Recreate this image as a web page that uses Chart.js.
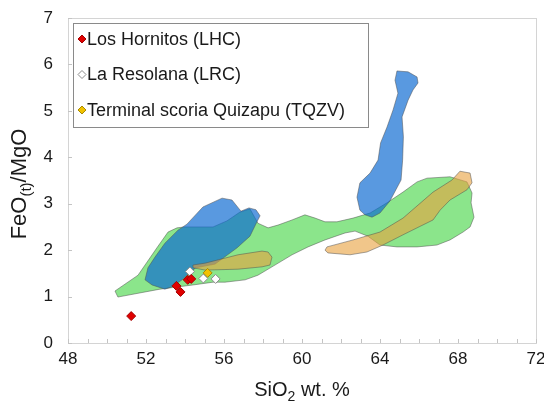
<!DOCTYPE html>
<html>
<head>
<meta charset="utf-8">
<script src="https://cdn.jsdelivr.net/npm/chart.js@4.4.1/dist/chart.umd.min.js"></script>
<style>
  body { margin: 0; background: #fff; }
  #wrap { width: 544px; height: 403px; }
</style>
</head>
<body>
<div id="wrap"><canvas id="chart" width="544" height="403"></canvas></div>
<script>
// samples: SiO2 wt.% and FeO(t)/MgO
const lhcSiO2 = [51.24, 53.56, 53.77, 54.14, 54.32];
const lhcRatio = [0.58, 1.23, 1.10, 1.36, 1.38];
const lrcSiO2 = [54.25, 54.94, 55.57];
const lrcRatio = [1.54, 1.39, 1.38];
const tqzvSiO2 = [55.16];
const tqzvRatio = [1.51];

// field outlines [SiO2, FeO/MgO]
const greenField = [[50.41,1.12],[51.59,1.46],[52.56,2.05],[53.13,2.39],[53.59,2.48],[54.0,2.50],[55.44,2.50],[56.15,2.63],[56.82,2.82],[57.33,2.89],[57.74,2.58],[58.26,2.48],[58.77,2.54],[59.49,2.65],[60.15,2.76],[60.67,2.69],[61.18,2.61],[61.79,2.61],[62.62,2.69],[63.49,2.80],[64.36,3.02],[65.18,3.25],[65.9,3.47],[66.41,3.55],[67.59,3.58],[68.46,3.47],[68.72,3.23],[68.67,3.02],[68.82,2.71],[68.62,2.50],[68.26,2.39],[67.59,2.22],[66.92,2.11],[65.9,2.07],[64.87,2.07],[64.0,2.11],[63.38,2.30],[62.72,2.41],[62.21,2.37],[61.18,2.22],[60.31,2.07],[59.49,1.90],[58.46,1.64],[57.74,1.46],[57.08,1.36],[56.05,1.31],[55.44,1.31],[54.41,1.25],[52.72,1.16],[50.56,0.99]];
const blueFieldLeft = [[51.95,1.36],[52.31,1.25],[52.97,1.16],[53.33,1.21],[53.85,1.36],[54.26,1.53],[54.56,1.62],[55.54,1.70],[56.67,2.05],[57.33,2.30],[57.69,2.61],[57.85,2.74],[57.64,2.87],[57.28,2.91],[56.87,2.84],[56.41,3.08],[55.90,3.12],[54.92,2.93],[54.10,2.56],[53.64,2.43],[52.97,2.15],[52.46,1.85],[52.10,1.62]];
const blueFieldRight = [[64.87,5.86],[65.44,5.84],[65.90,5.73],[65.95,5.60],[65.69,5.45],[65.44,5.23],[65.13,4.87],[65.20,4.44],[65.16,3.94],[65.08,3.51],[64.51,3.06],[64.0,2.80],[63.59,2.71],[63.23,2.76],[62.97,2.86],[62.82,3.14],[62.97,3.45],[63.49,3.66],[63.90,3.94],[64.03,4.31],[64.36,4.65],[64.67,5.02],[64.92,5.38],[64.77,5.66]];
const tanFieldLeft = [[54.41,1.68],[55.03,1.72],[56.72,1.90],[57.95,1.98],[58.26,1.96],[58.46,1.85],[58.36,1.68],[57.95,1.64],[56.72,1.59],[55.03,1.57],[54.41,1.62]];
const tanFieldRight = [[61.18,2.00],[61.28,2.07],[62.62,2.22],[64.0,2.39],[65.18,2.69],[66.72,3.25],[67.69,3.51],[68.10,3.70],[68.62,3.66],[68.72,3.45],[68.46,3.30],[67.59,3.08],[67.08,2.86],[66.72,2.65],[65.90,2.48],[65.18,2.33],[64.15,2.11],[63.33,1.96],[62.46,1.90],[61.33,1.94]];

const xMin = 48, xMax = 72, xLabelStep = 4;
const yMin = 0, yMax = 7;

const FONT = '"Liberation Sans", Arial, sans-serif';
Chart.defaults.font.family = FONT;
Chart.defaults.color = '#1a1a1a';

function points(xs, ys) {
    return xs.map((x, i) => ({ x: x, y: ys[i] }));
}

function field(outline, fillColor) {
    const data = outline.map(p => ({ x: p[0], y: p[1] }));
    data.push({ x: outline[0][0], y: outline[0][1] });
    return {
        type: 'line',
        data: data,
        fill: 'shape',
        backgroundColor: fillColor,
        borderColor: 'rgba(80,80,80,0.5)',
        borderWidth: 1,
        pointRadius: 0,
        tension: 0
    };
}

function drawText(ctx, parts, x, y) {
    // parts drawn left to right, centred on x
    let total = 0;
    parts.forEach(p => {
        ctx.font = p.size + 'px ' + FONT;
        total += ctx.measureText(p.text).width;
    });
    let cx = x - total / 2;
    parts.forEach(p => {
        ctx.font = p.size + 'px ' + FONT;
        ctx.fillText(p.text, cx, y + (p.dy || 0));
        cx += ctx.measureText(p.text).width;
    });
}

const decor = {
    id: 'decor',
    beforeDatasetsDraw(chart) {
        const ctx = chart.ctx;
        const a = chart.chartArea;
        const xs = chart.scales.x, ys = chart.scales.y;
        ctx.save();
        ctx.strokeStyle = '#d4d4d4';
        ctx.lineWidth = 1;
        ctx.strokeRect(a.left + 0.5, a.top + 0.5, a.right - a.left, a.bottom - a.top);
        ctx.strokeStyle = '#c4c4c4';
        ctx.beginPath();
        xs.ticks.forEach(t => {
            const px = Math.round(xs.getPixelForValue(t.value)) + 0.5;
            ctx.moveTo(px, a.bottom);
            ctx.lineTo(px, a.bottom - 4);
        });
        ys.ticks.forEach(t => {
            const py = Math.round(ys.getPixelForValue(t.value)) + 0.5;
            ctx.moveTo(a.left, py);
            ctx.lineTo(a.left + 4, py);
        });
        ctx.stroke();
        ctx.restore();
    },
    afterDraw(chart) {
        const ctx = chart.ctx;
        const a = chart.chartArea;
        ctx.save();
        ctx.fillStyle = '#1a1a1a';
        ctx.textBaseline = 'alphabetic';

        // axis titles with subscripts
        drawText(ctx, [
            { text: 'SiO', size: 20 },
            { text: '2', size: 14, dy: 5 },
            { text: ' wt. %', size: 20 }
        ], (a.left + a.right) / 2, 396);

        ctx.save();
        ctx.translate(26, 184);
        ctx.rotate(-Math.PI / 2);
        drawText(ctx, [
            { text: 'FeO', size: 22 },
            { text: '(t)', size: 15, dy: 5 },
            { text: '/MgO', size: 22 }
        ], 0, 0);
        ctx.restore();

        // legend box
        const items = chart.data.datasets.filter(d => d.label);
        const bx = 73.5, by = 23.5, bw = 295, bh = 104;
        ctx.fillStyle = '#ffffff';
        ctx.fillRect(bx, by, bw, bh);
        ctx.strokeStyle = '#8a8a8a';
        ctx.lineWidth = 1;
        ctx.strokeRect(bx, by, bw, bh);
        ctx.font = '18px ' + FONT;
        ctx.textBaseline = 'middle';
        items.forEach((d, i) => {
            const y = 39 + i * 35.5;
            ctx.fillStyle = d.backgroundColor;
            ctx.strokeStyle = d.borderColor;
            ctx.lineWidth = 1;
            ctx.beginPath();
            ctx.moveTo(82, y - 4);
            ctx.lineTo(86, y);
            ctx.lineTo(82, y + 4);
            ctx.lineTo(78, y);
            ctx.closePath();
            ctx.fill();
            ctx.stroke();
            ctx.fillStyle = '#1a1a1a';
            ctx.fillText(d.label, 87, y + 1);
        });
        ctx.restore();
    }
};

const marker = {
    pointStyle: 'rectRot',
    pointRadius: 4.5,
    pointBorderWidth: 1,
    showLine: false
};

new Chart(document.getElementById('chart'), {
    type: 'scatter',
    data: {
        datasets: [
            Object.assign({
                label: 'Los Hornitos (LHC)',
                data: points(lhcSiO2, lhcRatio),
                backgroundColor: '#e00000',
                borderColor: '#a30000'
            }, marker),
            Object.assign({
                label: 'La Resolana (LRC)',
                data: points(lrcSiO2, lrcRatio),
                backgroundColor: '#ffffff',
                borderColor: '#8c8c8c'
            }, marker),
            Object.assign({
                label: 'Terminal scoria Quizapu (TQZV)',
                data: points(tqzvSiO2, tqzvRatio),
                backgroundColor: '#f2c200',
                borderColor: '#a88a00'
            }, marker),
            field(tanFieldRight, 'rgba(232,160,60,0.6)'),
            field(tanFieldLeft, 'rgba(232,160,60,0.6)'),
            field(blueFieldRight, 'rgba(10,105,210,0.68)'),
            field(blueFieldLeft, 'rgba(10,105,210,0.68)'),
            field(greenField, 'rgba(100,220,100,0.75)')
        ]
    },
    options: {
        responsive: false,
        animation: false,
        layout: { padding: { top: 18, right: 8, left: 0, bottom: 0 } },
        plugins: {
            legend: { display: false },
            tooltip: { enabled: false }
        },
        scales: {
            x: {
                type: 'linear',
                min: xMin,
                max: xMax,
                grid: { display: false, drawTicks: false },
                border: { display: false },
                ticks: {
                    stepSize: 1,
                    autoSkip: false,
                    maxRotation: 0,
                    padding: 6,
                    font: { size: 17 },
                    callback: v => (v % xLabelStep === 0 ? v : '')
                },
                afterFit: s => { s.height = 60; s.paddingLeft = 0; s.paddingRight = 0; }
            },
            y: {
                type: 'linear',
                min: yMin,
                max: yMax,
                grid: { display: false, drawTicks: false },
                border: { display: false },
                ticks: {
                    stepSize: 1,
                    padding: 15,
                    font: { size: 17 }
                },
                afterFit: s => { s.width = 68; s.paddingTop = 0; s.paddingBottom = 0; }
            }
        }
    },
    plugins: [decor]
});
</script>
</body>
</html>
